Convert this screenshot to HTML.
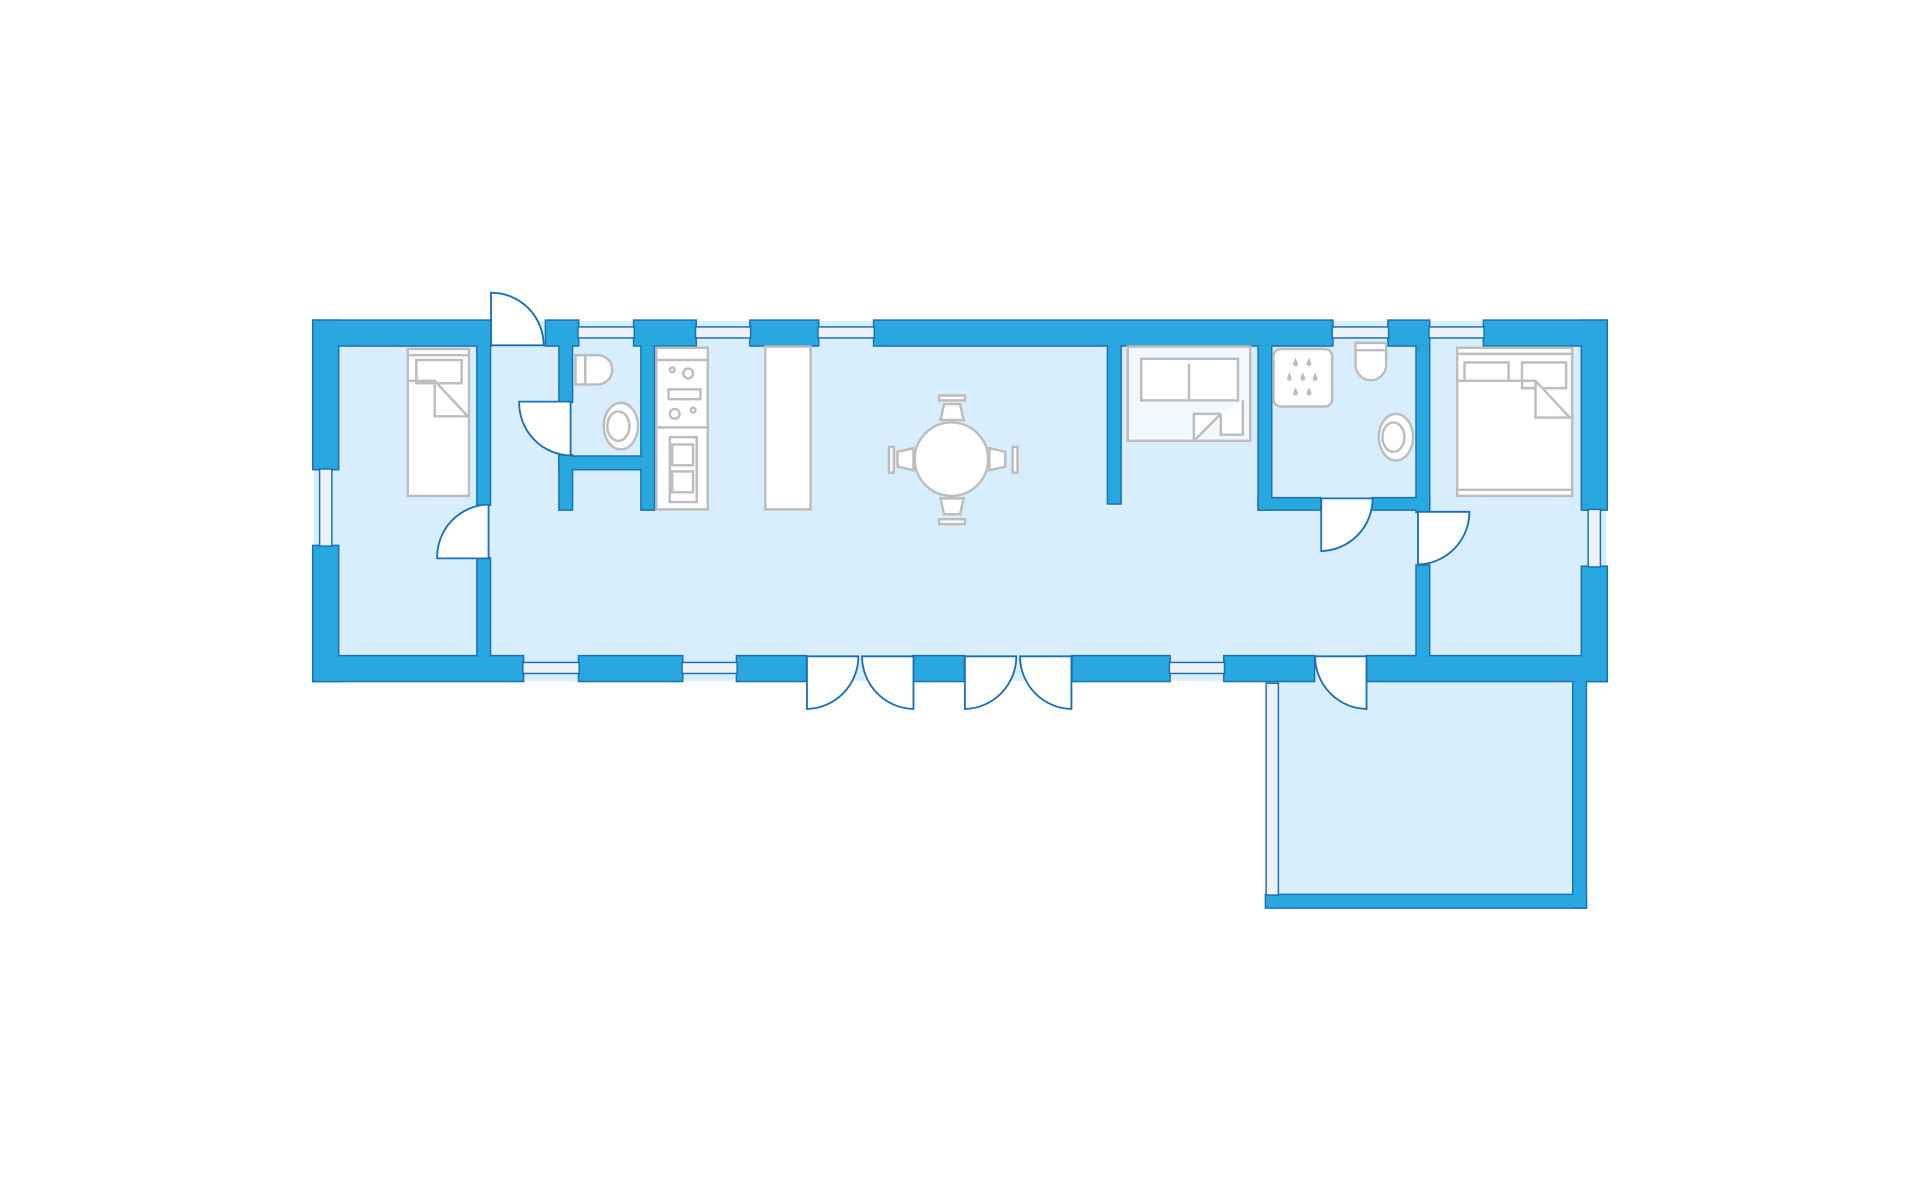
<!DOCTYPE html>
<html><head><meta charset="utf-8"><style>html,body{margin:0;padding:0;background:#fff}svg{display:block}</style></head><body>
<svg width="1920" height="1200" viewBox="0 0 1568 980" xmlns="http://www.w3.org/2000/svg">
<defs>
<g id="walls">
<rect x="256" y="262" width="145" height="20"/>
<rect x="446" y="262" width="26" height="20"/>
<rect x="518" y="262" width="50" height="20"/>
<rect x="613" y="262" width="55" height="20"/>
<rect x="714" y="262" width="374" height="20"/>
<rect x="1134" y="262" width="33" height="20"/>
<rect x="1212" y="262" width="100" height="20"/>
<rect x="256" y="262" width="20" height="121"/>
<rect x="256" y="446" width="20" height="110"/>
<rect x="256" y="536" width="171" height="20"/>
<rect x="473" y="536" width="84" height="20"/>
<rect x="602" y="536" width="56" height="20"/>
<rect x="746" y="536" width="41" height="20"/>
<rect x="876" y="536" width="79" height="20"/>
<rect x="1000" y="536" width="73" height="20"/>
<rect x="1116" y="536" width="196" height="20"/>
<rect x="1292" y="262" width="20" height="154"/>
<rect x="1292" y="463" width="20" height="93"/>
<rect x="390" y="282" width="10" height="130"/>
<rect x="390" y="456" width="10" height="80"/>
<rect x="457" y="282" width="10" height="46"/>
<rect x="457" y="372" width="10" height="44"/>
<rect x="457" y="373" width="76" height="10"/>
<rect x="524" y="282" width="10" height="134"/>
<rect x="905" y="282" width="10" height="129"/>
<rect x="1028" y="282" width="10" height="134"/>
<rect x="1028" y="407" width="50" height="9"/>
<rect x="1121" y="407" width="46" height="9"/>
<rect x="1157" y="282" width="10" height="136"/>
<rect x="1157" y="462" width="10" height="74"/>
<rect x="1034" y="731" width="261" height="10"/>
<rect x="1285" y="556" width="10" height="185"/>
</g>
</defs>
<g fill="#d9eefc">
<rect x="256" y="262" width="1056" height="294"/>
<rect x="1034" y="556" width="261" height="185"/>
</g>
<use href="#walls" fill="#29a8e0" stroke="#1a6fb5" stroke-width="2.4"/>
<use href="#walls" fill="#29a8e0" stroke="none"/>
<g fill="#eef2f6" stroke="#1a6fb5" stroke-width="1.2">
<rect x="472" y="267" width="46" height="9"/>
<rect x="568" y="267" width="45" height="9"/>
<rect x="668" y="267" width="46" height="9"/>
<rect x="1088" y="267" width="46" height="9"/>
<rect x="1167" y="267" width="45" height="9"/>
<rect x="261" y="383" width="10" height="63"/>
<rect x="1297" y="416" width="10" height="47"/>
<rect x="427" y="541" width="46" height="9"/>
<rect x="557" y="541" width="45" height="9"/>
<rect x="955" y="541" width="45" height="9"/>
<rect x="1034" y="558" width="10" height="173"/>
</g>
<g fill="#fff" stroke="#1a6fb5" stroke-width="1.5">
<path d="M401,282 V239 A43,43 0 0 1 444,282 Z"/>
<path d="M399,412 V456 H357 A43,43 0 0 1 399,412 Z"/>
<path d="M466,328 V372 A43,43 0 0 1 424,328 Z"/>
<path d="M1079,407 V450 A43,43 0 0 0 1121,407 Z"/>
<path d="M1158,418 H1200 A43,43 0 0 1 1158,461 Z"/>
<path d="M659,536 V579 A43,43 0 0 0 701,536 Z"/>
<path d="M746,536 V579 A43,43 0 0 1 704,536 Z"/>
<path d="M788,536 V579 A43,43 0 0 0 830,536 Z"/>
<path d="M875,536 V579 A43,43 0 0 1 833,536 Z"/>
<path d="M1116,536 V579 A43,43 0 0 1 1074,536 Z"/>
</g>
<g fill="#fff" stroke="#bdbdbd" stroke-width="2">
<rect x="333" y="285" width="50" height="120"/>
<line x1="333" y1="290" x2="383" y2="290"/>
<rect x="340" y="294" width="37" height="19"/>
<path d="M333,311 H355 L382,340 H355 V311"/>
<rect x="470" y="290" width="8" height="24"/>
<path d="M478,290 H488 A12,12 0 0 1 488,314 H478 Z"/>
<ellipse cx="507" cy="348" rx="14" ry="19"/>
<ellipse cx="505" cy="348" rx="9" ry="12"/>
<rect x="536" y="284" width="42" height="132"/>
<line x1="536" y1="294" x2="578" y2="294"/>
<line x1="536" y1="349" x2="578" y2="349"/>
<circle cx="562" cy="305" r="4"/><circle cx="549" cy="302" r="2"/>
<rect x="546" y="318" width="26" height="8"/>
<circle cx="551" cy="338" r="4"/><circle cx="566" cy="335" r="2"/>
<rect x="547" y="357" width="22" height="53"/>
<rect x="549" y="363" width="17" height="17"/><rect x="549" y="385" width="17" height="17"/>
<rect x="625" y="283" width="37" height="133"/>
<circle cx="777" cy="375" r="30"/>
<path d="M768,343 H787 L784,330 H771 Z"/><rect x="767" y="323" width="21" height="4"/>
<path d="M768,407 H787 L784,420 H771 Z"/><rect x="767" y="424" width="21" height="4"/>
<path d="M746,366 V384 L733,381 V369 Z"/><rect x="726" y="365" width="4" height="21"/>
<path d="M808,366 V384 L821,381 V369 Z"/><rect x="827" y="365" width="4" height="21"/>
<rect x="921" y="283" width="100" height="77" fill="#f2f9fe"/>
<rect x="932" y="293" width="79" height="34"/>
<line x1="971" y1="297" x2="971" y2="327"/>
<path d="M975,360 V338 H997 M975,360 L997,338 M997,338 V355 H1015 V327"/>
<rect x="1040" y="285" width="48" height="47" rx="6"/>
<path d="M1107,280 H1132 V298 A12.5,12.5 0 0 1 1107,298 Z"/>
<line x1="1107" y1="286" x2="1132" y2="286"/>
<ellipse cx="1140" cy="357" rx="14" ry="19"/>
<ellipse cx="1138" cy="357" rx="9" ry="12"/>
<rect x="1190" y="284" width="94" height="121"/>
<line x1="1190" y1="289" x2="1284" y2="289"/>
<line x1="1190" y1="400" x2="1284" y2="400"/>
<rect x="1196" y="296" width="36" height="15"/><rect x="1243" y="296" width="36" height="21"/>
<path d="M1190,311 H1254 L1282,341 H1254 V311"/>
</g>
<g fill="#bdbdbd">
<path d="M1058,292 l-2,5 a2,2 0 0 0 4,0 Z"/><path d="M1069,292 l-2,5 a2,2 0 0 0 4,0 Z"/>
<path d="M1053,304 l-2,5 a2,2 0 0 0 4,0 Z"/><path d="M1064,304 l-2,5 a2,2 0 0 0 4,0 Z"/><path d="M1074,304 l-2,5 a2,2 0 0 0 4,0 Z"/>
<path d="M1058,316 l-2,5 a2,2 0 0 0 4,0 Z"/><path d="M1069,316 l-2,5 a2,2 0 0 0 4,0 Z"/>
</g>
</svg>
</body></html>
